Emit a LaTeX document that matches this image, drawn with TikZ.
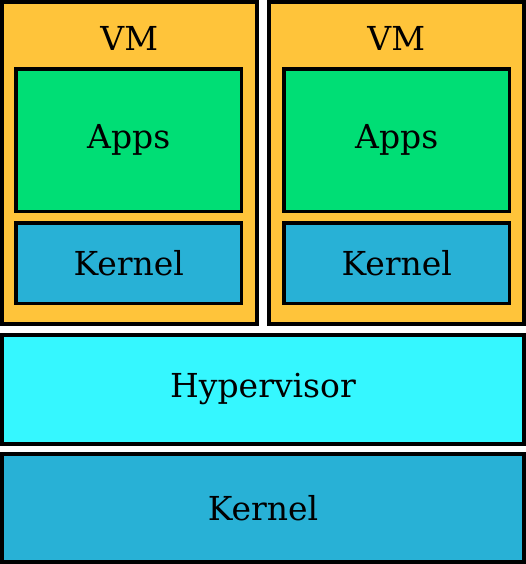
\documentclass[tikz,border=0pt]{standalone}
\usepackage{fontspec}
\setmainfont{DejaVu Serif}
\usepackage{tikz}

\definecolor{vmorange}{HTML}{FFC43A}
\definecolor{appgreen}{HTML}{00DE75}
\definecolor{kernblue}{HTML}{28B1D6}
\definecolor{hypcyan}{HTML}{35F7FF}

\begin{document}
\begin{tikzpicture}[x=1pt, y=-1pt,
  box/.style={draw=black, rectangle, inner sep=0pt, font=\fontsize{33}{38}\selectfont},
  outerbox/.style={box, line width=4pt},
  innerbox/.style={box, line width=3.5pt, minimum width=225.5pt}]

  \useasboundingbox (0,0) rectangle (526,564);

  % virtual machines
  \node[outerbox, fill=vmorange, minimum width=254.5pt, minimum height=322pt] (vmA) at (129.25,163) {};
  \node[outerbox, fill=vmorange, minimum width=255.5pt, minimum height=322pt] (vmB) at (396.25,163) {};
  \node[box, draw=none] (vmAlabel) at (129.25,38) {VM};
  \node[box, draw=none] (vmBlabel) at (396.25,38) {VM};

  % guest layers
  \node[innerbox, fill=appgreen, minimum height=142.5pt] (appsA) at (128.75,140.25) {Apps};
  \node[innerbox, fill=kernblue, minimum height=80.5pt] (kernA) at (128.75,263.25) {Kernel};
  \node[innerbox, fill=appgreen, minimum height=142.5pt] (appsB) at (396.75,140.25) {Apps};
  \node[innerbox, fill=kernblue, minimum height=80.5pt] (kernB) at (396.75,263.25) {Kernel};

  % host layers
  \node[outerbox, fill=hypcyan, minimum width=522pt, minimum height=108.5pt] (hyper) at (263,389.25) {Hypervisor};
  \node[outerbox, fill=kernblue, minimum width=522pt, minimum height=108pt] (host) at (263,508) {Kernel};

\end{tikzpicture}
\end{document}
